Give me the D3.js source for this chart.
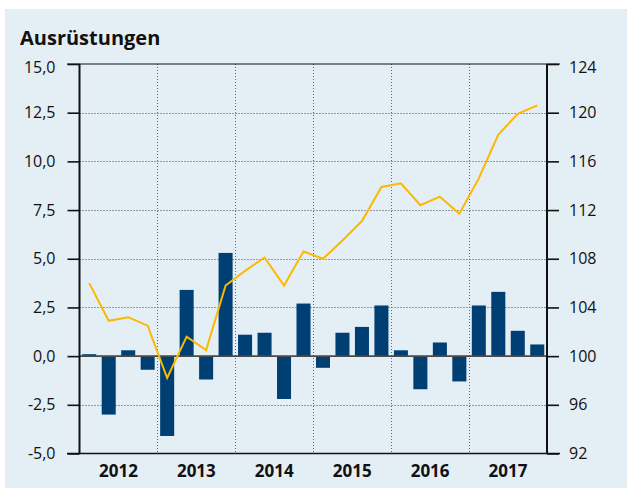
<!DOCTYPE html>
<html>
<head>
<meta charset="utf-8">
<script src="https://cdn.jsdelivr.net/npm/d3@7"></script>
<style>
  body { margin: 0; background: #fff; }
  svg { display: block; font-family: "Open Sans", sans-serif; }
</style>
</head>
<body>
<div id="chart"></div>
<script>
// Ausrüstungen: quarterly change (bars, left axis) and index (line, right axis)
var years = ["2012", "2013", "2014", "2015", "2016", "2017"];
var quarters = ["2012Q1","2012Q2","2012Q3","2012Q4","2013Q1","2013Q2","2013Q3","2013Q4",
                "2014Q1","2014Q2","2014Q3","2014Q4","2015Q1","2015Q2","2015Q3","2015Q4",
                "2016Q1","2016Q2","2016Q3","2016Q4","2017Q1","2017Q2","2017Q3","2017Q4"];
var changes = [0.1, -3.0, 0.3, -0.7, -4.1, 3.4, -1.2, 5.3,
               1.1, 1.2, -2.2, 2.7, -0.6, 1.2, 1.5, 2.6,
               0.3, -1.7, 0.7, -1.3, 2.6, 3.3, 1.3, 0.6];
var index = [106.0, 102.9, 103.2, 102.5, 98.2, 101.6, 100.5, 105.8,
             107.0, 108.1, 105.8, 108.6, 108.0, 109.5, 111.1, 113.9,
             114.2, 112.4, 113.1, 111.7, 114.6, 118.2, 119.9, 120.6];
var leftTicks = [-5, -2.5, 0, 2.5, 5, 7.5, 10, 12.5, 15];
var rightTicks = [92, 96, 100, 104, 108, 112, 116, 120, 124];

var W = 627, H = 488;
var plot = {left: 79.5, right: 547, top: 64, bottom: 453.5};

var svg = d3.select("#chart").append("svg")
    .attr("width", W)
    .attr("height", H);

svg.append("rect")
    .attr("x", 5).attr("y", 9)
    .attr("width", W - 5).attr("height", H - 9)
    .attr("fill", "#e4eef5");

svg.append("text")
    .attr("x", 20).attr("y", 45)
    .attr("font-size", 20)
    .attr("font-weight", "bold")
    .attr("fill", "#111")
    .text("Ausrüstungen");

//
// Scales
//
var x = d3.scaleBand().domain(quarters).range([plot.left, plot.right]).paddingInner(0.28).paddingOuter(0.14);
var xYear = d3.scaleBand().domain(years).range([plot.left, plot.right]);
var y = d3.scaleLinear().domain([-5, 15]).range([plot.bottom, plot.top]);
var y2 = d3.scaleLinear().domain([92, 124]).range([plot.bottom, plot.top]);

var fmt = function(d) { return d3.format(".1f")(d).replace(".", ",").replace("−", "-"); };

// gridlines
svg.append("g")
    .selectAll("line")
    .data(leftTicks.filter(function(d) { return d != 0 && d != 15 && d != -5; }))
    .join("line")
    .attr("x1", plot.left).attr("x2", plot.right)
    .attr("y1", function(d) { return Math.round(y(d)) + 0.5; })
    .attr("y2", function(d) { return Math.round(y(d)) + 0.5; })
    .attr("stroke", "#444")
    .attr("stroke-width", 1)
    .attr("stroke-dasharray", "1,2");

svg.append("g")
    .selectAll("line")
    .data(years.slice(1))
    .join("line")
    .attr("x1", function(d) { return Math.round(xYear(d)) + 0.5; })
    .attr("x2", function(d) { return Math.round(xYear(d)) + 0.5; })
    .attr("y1", plot.top).attr("y2", plot.bottom)
    .attr("stroke", "#666")
    .attr("stroke-width", 1)
    .attr("stroke-dasharray", "1,2");

// bars
svg.append("g")
    .selectAll("rect")
    .data(changes)
    .join("rect")
    .attr("x", function(d, i) { return x(quarters[i]); })
    .attr("width", x.bandwidth())
    .attr("y", function(d) { return y(Math.max(0, d)); })
    .attr("height", function(d) { return Math.abs(y(d) - y(0)); })
    .attr("fill", "#003f73");

// zero line
svg.append("line")
    .attr("x1", plot.left).attr("x2", plot.right)
    .attr("y1", y(0)).attr("y2", y(0))
    .attr("stroke", "#4a4a4a")
    .attr("stroke-width", 1.6);

// index line
svg.append("path")
    .datum(index)
    .attr("fill", "none")
    .attr("stroke", "#fbb900")
    .attr("stroke-width", 2)
    .attr("d", d3.line()
        .x(function(d, i) { return x(quarters[i]) + x.bandwidth() / 2; })
        .y(function(d) { return y2(d); }));

// frame
svg.append("line")
    .attr("x1", 67).attr("x2", 560)
    .attr("y1", plot.top).attr("y2", plot.top)
    .attr("stroke", "#111").attr("stroke-width", 1.2);
svg.append("line")
    .attr("x1", 67).attr("x2", 560)
    .attr("y1", plot.bottom).attr("y2", plot.bottom)
    .attr("stroke", "#111").attr("stroke-width", 1.6);

// Axes
var axL = svg.append("g")
    .attr("transform", "translate(" + plot.left + ",0)")
    .call(d3.axisLeft(y).tickValues(leftTicks).tickSize(12).tickPadding(12).tickFormat(fmt));
var axR = svg.append("g")
    .attr("transform", "translate(" + plot.right + ",0)")
    .call(d3.axisRight(y2).tickValues(rightTicks).tickSize(12).tickPadding(10));

[axL, axR].forEach(function(ax) {
    ax.select(".domain").attr("stroke", "#111").attr("stroke-width", 2)
        .attr("d", "M0," + plot.top + "V" + plot.bottom);
    ax.selectAll(".tick line").attr("stroke", "#111").attr("stroke-width", 1.6);
    ax.selectAll(".tick text")
        .attr("font-size", 16)
        .attr("font-family", "Open Sans, sans-serif")
        .attr("fill", "#111");
});
// top labels sit a little lower than their tick
axL.selectAll(".tick text").filter(function(d) { return d == 15; }).attr("dy", "0.55em");
axR.selectAll(".tick text").filter(function(d) { return d == 124; }).attr("dy", "0.55em");

// year labels
svg.append("g")
    .selectAll("text")
    .data(years)
    .join("text")
    .attr("x", function(d) { return xYear(d) + xYear.bandwidth() / 2; })
    .attr("y", 477)
    .attr("text-anchor", "middle")
    .attr("font-size", 17)
    .attr("font-weight", "bold")
    .attr("fill", "#111")
    .text(function(d) { return d; });
</script>
</body>
</html>
